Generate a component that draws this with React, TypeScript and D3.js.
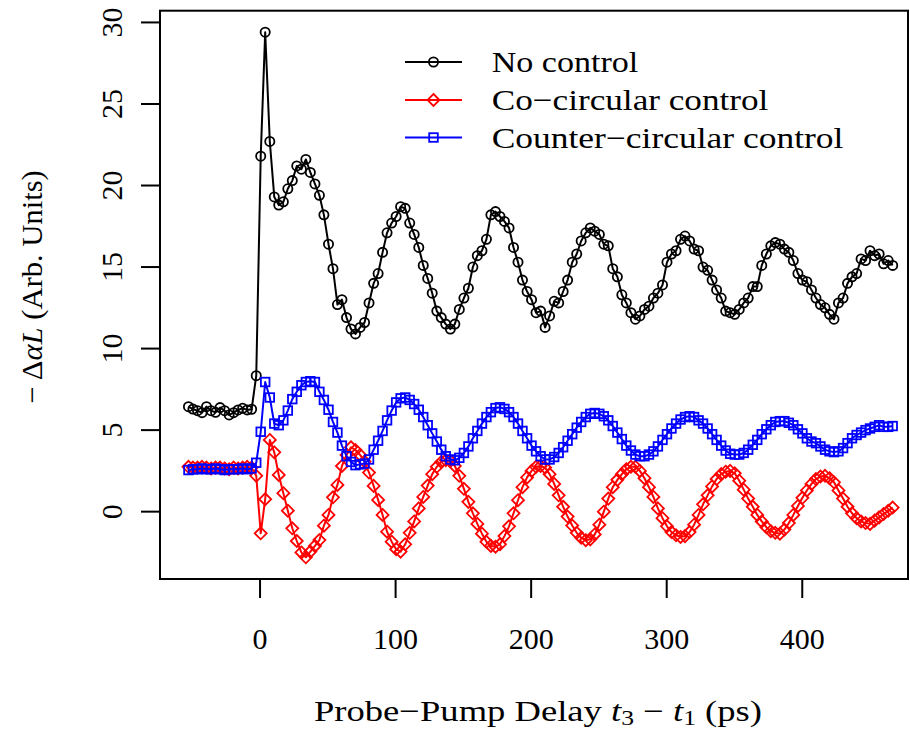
import React from "react";
import * as d3 from "d3";

// Probe–pump delay (ps)
const delays = [
  -52.8, -49.5, -46.1, -42.8, -39.5, -36.1, -32.8, -29.5, -26.1, -22.8,
  -19.5, -16.2, -12.8, -9.5, -6.2, -2.8,
  0.5, 3.8, 7.2, 10.5, 13.8, 17.2, 20.5, 23.8, 27.1, 30.5,
  33.8, 37.1, 40.5, 43.8, 47.1, 50.5, 53.8, 57.1, 60.4, 63.8,
  67.1, 70.4, 73.8, 77.1, 80.4, 83.8, 87.1, 90.4, 93.7, 97.1,
  100.4, 103.7, 107.1, 110.4, 113.7, 117.1, 120.4, 123.7, 127.0, 130.4,
  133.7, 137.0, 140.4, 143.7, 147.0, 150.4, 153.7, 157.0, 160.3, 163.7,
  167.0, 170.3, 173.7, 177.0, 180.3, 183.7, 187.0, 190.3, 193.6, 197.0,
  200.3, 203.6, 207.0, 210.3, 213.6, 217.0, 220.3, 223.6, 226.9, 230.3,
  233.6, 236.9, 240.3, 243.6, 246.9, 250.3, 253.6, 256.9, 260.2, 263.6,
  266.9, 270.2, 273.6, 276.9, 280.2, 283.6, 286.9, 290.2, 293.5, 296.9,
  300.2, 303.5, 306.9, 310.2, 313.5, 316.9, 320.2, 323.5, 326.8, 330.2,
  333.5, 336.8, 340.2, 343.5, 346.8, 350.2, 353.5, 356.8, 360.1, 363.5,
  366.8, 370.1, 373.5, 376.8, 380.1, 383.5, 386.8, 390.1, 393.4, 396.8,
  400.1, 403.4, 406.8, 410.1, 413.4, 416.8, 420.1, 423.4, 426.7, 430.1,
  433.4, 436.7, 440.1, 443.4, 446.7, 450.0, 453.4, 456.7, 460.0, 463.4,
  466.7,
];

const noControl = [
  6.44, 6.29, 6.19, 6.07, 6.44, 6.19, 6.09, 6.38, 6.19, 5.93,
  6.07, 6.24, 6.34, 6.24, 6.28, 8.34,
  21.8, 29.4, 22.7, 19.3, 18.8, 19.0, 19.8, 20.3, 21.2, 21.0,
  21.6, 20.8, 20.1, 19.4, 18.2, 16.4, 14.9, 12.7, 13.0, 11.9,
  11.2, 10.9, 11.3, 11.6, 12.8, 14.0, 14.6, 15.9, 17.1, 17.7,
  18.1, 18.7, 18.6, 17.7, 17.0, 16.2, 15.1, 14.3, 13.4, 12.3,
  11.9, 11.5, 11.2, 11.5, 12.4, 13.1, 13.7, 15.0, 15.7, 16.0,
  16.7, 18.2, 18.4, 18.1, 17.8, 17.4, 16.2, 15.3, 14.2, 13.5,
  13.0, 12.2, 12.3, 11.3, 12.0, 12.9, 12.8, 13.5, 14.2, 15.3,
  15.8, 16.6, 17.1, 17.4, 17.2, 17.0, 16.4, 16.3, 14.9, 14.4,
  13.3, 12.8, 12.2, 11.8, 12.0, 12.4, 12.6, 13.1, 13.4, 13.9,
  15.3, 15.8, 16.0, 16.7, 16.9, 16.6, 16.1, 16.0, 15.0, 14.8,
  14.2, 13.6, 13.1, 12.3, 12.2, 12.1, 12.4, 12.8, 13.1, 13.8,
  13.8, 15.1, 15.8, 16.3, 16.5, 16.4, 16.1, 15.9, 15.4, 14.6,
  14.2, 14.1, 13.6, 13.1, 12.7, 12.5, 12.1, 11.8, 12.8, 13.1,
  14.0, 14.4, 14.6, 15.5, 15.4, 16.0, 15.7, 15.8, 15.2, 15.4,
  15.1,
];

const coCircular = [
  2.75, 2.7, 2.7, 2.75, 2.7, 2.65, 2.7, 2.7, 2.65, 2.6,
  2.7, 2.65, 2.7, 2.75, 2.7, 2.2,
  -1.33, 0.76, 4.4, 3.64, 2.25, 1.13, 0.06, -1.02, -1.8, -2.5,
  -2.8, -2.45, -2.1, -1.74, -0.86, -0.2, 0.88, 1.64, 2.8, 3.48,
  3.95, 3.78, 3.48, 3.07, 2.4, 1.58, 0.72, -0.2, -1.23, -1.84,
  -2.3, -2.45, -2.0, -1.3, -0.6, 0.2, 0.9, 1.6, 2.3, 2.75,
  3.05, 3.15, 3.1, 2.8, 2.2, 1.4, 0.6, -0.1, -0.75, -1.35,
  -1.85, -2.1, -2.15, -2.0, -1.5, -0.9, -0.1, 0.7, 1.5, 2.1,
  2.5, 2.75, 2.8, 2.7, 2.3, 1.7, 1.0, 0.3, -0.3, -0.85,
  -1.3, -1.6, -1.75, -1.7, -1.4, -0.8, 0.0, 0.8, 1.5, 1.95,
  2.3, 2.6, 2.75, 2.75, 2.5, 2.05, 1.5, 0.9, 0.2, -0.4,
  -0.9, -1.25, -1.45, -1.55, -1.5, -1.25, -0.8, -0.2, 0.45, 1.0,
  1.55, 2.0, 2.3, 2.45, 2.5, 2.35, 1.9, 1.35, 0.8, 0.3,
  -0.2, -0.6, -0.95, -1.2, -1.3, -1.35, -1.1, -0.7, -0.2, 0.35,
  0.85, 1.3, 1.7, 2.0, 2.15, 2.2, 2.05, 1.8, 1.3, 0.8,
  0.3, -0.1, -0.4, -0.6, -0.7, -0.75, -0.55, -0.35, -0.15, 0.05,
  0.25,
];

const counterCircular = [
  2.55, 2.6, 2.6, 2.65, 2.6, 2.6, 2.65, 2.6, 2.55, 2.6,
  2.6, 2.6, 2.65, 2.6, 2.65, 3.0,
  4.9, 7.95, 7.0, 5.4, 5.3, 5.6, 6.2, 6.9, 7.35, 7.75,
  7.95, 8.0, 7.95, 7.35, 6.85, 6.25, 5.5, 4.85, 4.05, 3.4,
  3.05, 2.85, 2.9, 2.95, 3.2, 3.8, 4.35, 4.95, 5.6, 6.2,
  6.7, 6.95, 7.0, 6.85, 6.6, 6.25, 5.8, 5.3, 4.8, 4.3,
  3.8, 3.4, 3.2, 3.15, 3.3, 3.6, 4.0, 4.5, 4.95, 5.4,
  5.8, 6.1, 6.35, 6.4, 6.3, 6.1, 5.8, 5.4, 4.95, 4.5,
  4.05, 3.7, 3.4, 3.2, 3.2, 3.35, 3.6, 3.95, 4.35, 4.75,
  5.15, 5.5, 5.8, 6.0, 6.05, 6.0, 5.85, 5.6, 5.25, 4.85,
  4.45, 4.05, 3.75, 3.5, 3.4, 3.4, 3.5, 3.7, 4.0, 4.4,
  4.75, 5.1, 5.4, 5.65, 5.8, 5.85, 5.8, 5.6, 5.4, 5.1,
  4.75, 4.4, 4.05, 3.75, 3.55, 3.5, 3.5, 3.6, 3.8, 4.1,
  4.4, 4.75, 5.05, 5.3, 5.5, 5.55, 5.55, 5.45, 5.3, 5.05,
  4.8, 4.5, 4.3, 4.2, 4.0, 3.8, 3.7, 3.65, 3.7, 3.9,
  4.2, 4.5, 4.7, 4.85, 5.0, 5.1, 5.2, 5.3, 5.2, 5.2,
  5.25,
];

const xTicks = [0, 100, 200, 300, 400];
const yTicks = [0, 5, 10, 15, 20, 25, 30];
const legendLabels = ["No control", "Co\u2212circular control", "Counter\u2212circular control"];
const seriesColors = ["#000000", "#ff0000", "#0000ff"];
const seriesShapes = ["circle", "diamond", "square"];

const W = 910;
const H = 731;
const FONT = '"Liberation Serif", serif';

function Marker({ shape, x, y, color }: { shape: string; x: number; y: number; color: string }) {
  if (shape === "circle") {
    return <circle cx={x} cy={y} r={4.6} fill="none" stroke={color} strokeWidth={1.8} />;
  }
  if (shape === "diamond") {
    const s = 6;
    return (
      <path
        d={`M${x},${y - s}L${x + s},${y}L${x},${y + s}L${x - s},${y}Z`}
        fill="none"
        stroke={color}
        strokeWidth={1.8}
      />
    );
  }
  const h = 4.3;
  return <rect x={x - h} y={y - h} width={2 * h} height={2 * h} fill="none" stroke={color} strokeWidth={1.8} />;
}

export default function App() {
  const left = 160, right = 908, top = 10.7, bottom = 579;
  const x = d3.scaleLinear().domain([-73.8, 478]).range([left, right]);
  const y = d3.scaleLinear().domain([-4.13, 30.72]).range([bottom, top]);

  const series = [noControl, coCircular, counterCircular];
  const line = d3
    .line<[number, number]>()
    .x((d) => x(d[0]))
    .y((d) => y(d[1]));

  const legendWidths = [146.6, 276.7, 351.7];
  const legendY = [62, 100, 137.5];
  const txt = { fontFamily: FONT };

  return (
    <svg
      width={W}
      height={H}
      style={{ position: "absolute", left: 0, top: 0, background: "#fff", fontFamily: FONT }}
    >
      <rect x={0} y={0} width={W} height={H} fill="#fff" />
      {series.map((vals, si) => {
        const pts = delays.map((t, i) => [t, vals[i]] as [number, number]);
        return (
          <g key={si}>
            <path d={line(pts) || ""} fill="none" stroke={seriesColors[si]} strokeWidth={2} strokeLinejoin="round" />
            {pts.map((p, i) => (
              <Marker key={i} shape={seriesShapes[si]} x={x(p[0])} y={y(p[1])} color={seriesColors[si]} />
            ))}
          </g>
        );
      })}

      {/* box */}
      <rect x={left} y={top} width={right - left} height={bottom - top} fill="none" stroke="#000" strokeWidth={2} />

      {/* x axis */}
      {xTicks.map((t) => (
        <g key={t}>
          <line x1={x(t)} x2={x(t)} y1={bottom} y2={bottom + 19} stroke="#000" strokeWidth={2} />
          <text x={x(t)} y={649} textAnchor="middle" fontSize={30} style={txt}>
            {t}
          </text>
        </g>
      ))}
      {/* y axis */}
      {yTicks.map((t) => (
        <g key={t}>
          <line x1={left - 19} x2={left} y1={y(t)} y2={y(t)} stroke="#000" strokeWidth={2} />
          <text transform={`translate(122,${y(t)}) rotate(-90)`} textAnchor="middle" fontSize={30} style={txt}>
            {t}
          </text>
        </g>
      ))}

      {/* axis titles */}
      <g transform={`translate(${(left + right) / 2 + 4},721) scale(1.22,1)`}>
        <text x={0} y={0} textAnchor="middle" fontSize={30} style={txt}>
          <tspan>Probe{"\u2212"}Pump Delay </tspan>
          <tspan fontStyle="italic">t</tspan>
          <tspan fontSize={21} dy={4}>3</tspan>
          <tspan dy={-4}> {"\u2212"} </tspan>
          <tspan fontStyle="italic">t</tspan>
          <tspan fontSize={21} dy={4}>1</tspan>
          <tspan dy={-4}> (ps)</tspan>
        </text>
      </g>
      <g transform={`translate(42,${(top + bottom) / 2 - 8}) rotate(-90) scale(1.02,1)`}>
        <text x={0} y={0} textAnchor="middle" fontSize={30} style={txt}>
          <tspan>{"\u2212"} {"\u0394"}</tspan>
          <tspan fontStyle="italic">{"\u03b1"}L</tspan>
          <tspan> (Arb. Units)</tspan>
        </text>
      </g>

      {/* legend */}
      {legendLabels.map((lab, i) => (
        <g key={lab}>
          <line x1={405} x2={462} y1={legendY[i]} y2={legendY[i]} stroke={seriesColors[i]} strokeWidth={2} />
          <Marker shape={seriesShapes[i]} x={433.5} y={legendY[i]} color={seriesColors[i]} />
          <text
            x={491.7}
            y={legendY[i] + 10}
            fontSize={30}
            textLength={legendWidths[i]}
            lengthAdjust="spacingAndGlyphs"
            style={txt}
          >
            {lab}
          </text>
        </g>
      ))}
    </svg>
  );
}
